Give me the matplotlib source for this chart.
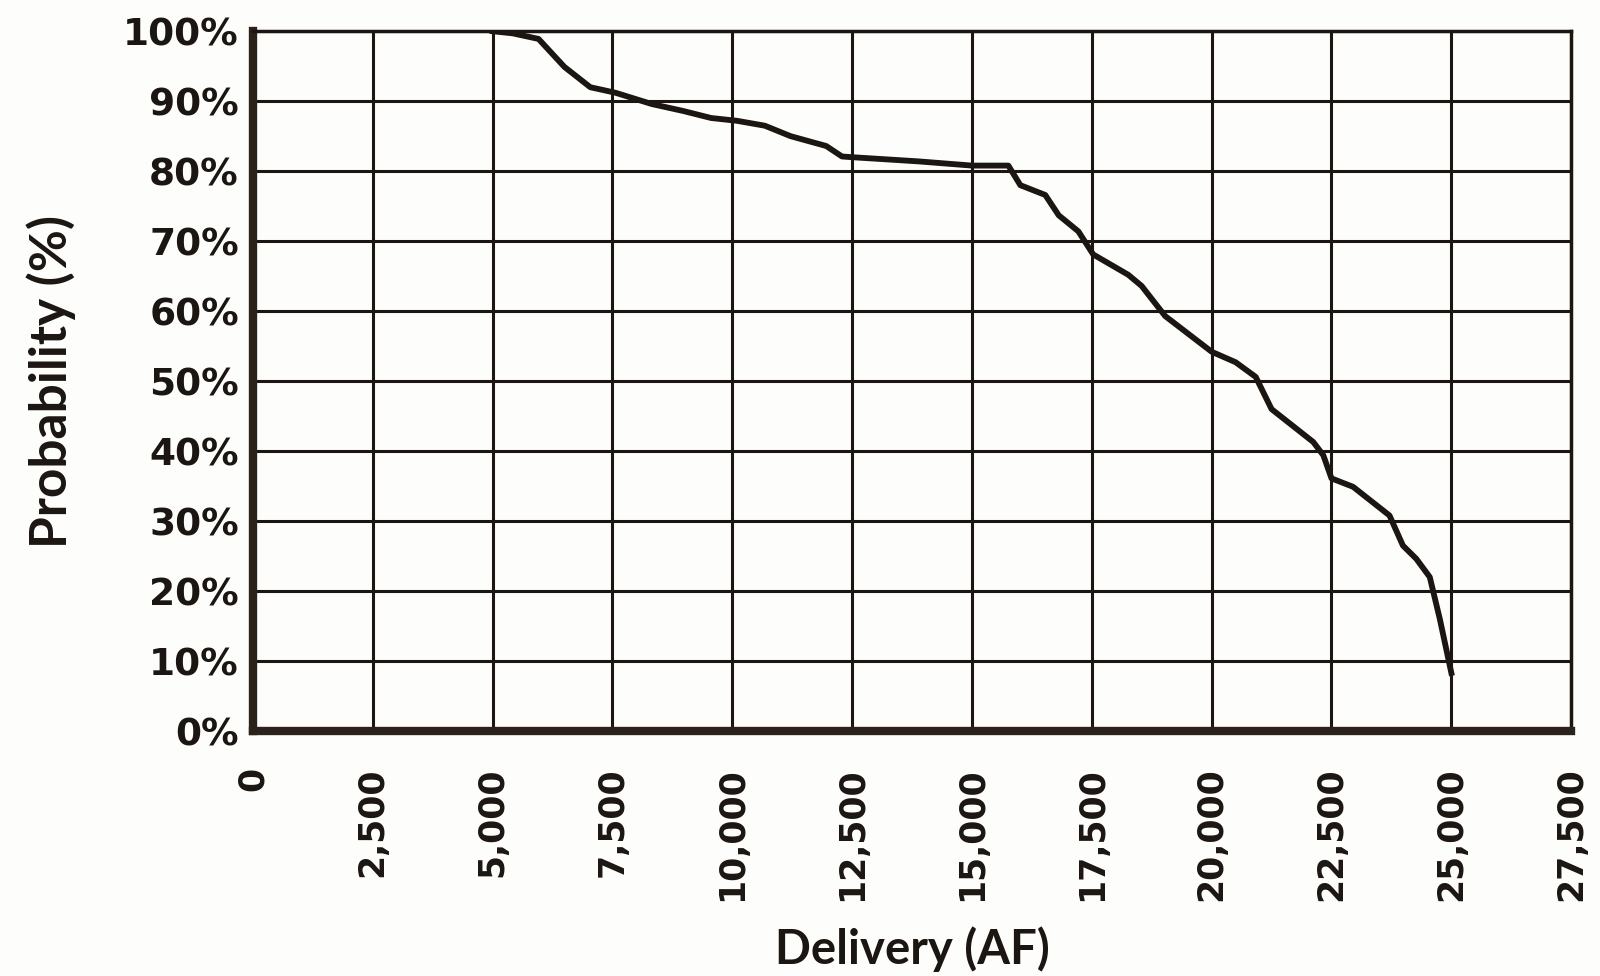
import numpy as np
import matplotlib
matplotlib.use('Agg')
import matplotlib.pyplot as plt
from matplotlib.ticker import FuncFormatter

# exceedance curve
delivery = [5000, 5420, 5960, 6500, 7040, 7570, 8320, 8980, 9560, 10100,
            10680, 11220, 11960, 12290, 12500, 13890, 15000, 15760, 16010, 16530,
            16810, 17220, 17530, 18260, 18540, 19030, 20000, 20500, 20920, 21250,
            22120, 22330, 22500, 22950, 23710, 23990, 24270, 24550, 24760, 25000]
probability = [100, 99.7, 98.9, 94.9, 92.0, 91.2, 89.6, 88.6, 87.6, 87.2,
               86.5, 85.0, 83.6, 82.1, 82.0, 81.4, 80.8, 80.8, 78.0, 76.6,
               73.7, 71.4, 68.1, 65.2, 63.6, 59.3, 54.2, 52.7, 50.6, 46.0,
               41.3, 39.4, 36.1, 34.9, 30.8, 26.5, 24.6, 22.0, 16.0, 8.3]

x_ticks = np.arange(0, 27501, 2500)
y_ticks = np.arange(0, 101, 10)

ink = '#1c1612'

fig = plt.figure(figsize=(16, 9.76), dpi=100, facecolor='#fdfdfb')
ax = fig.add_axes([0.158, 0.251, 0.824, 0.717])
ax.set_facecolor('#fdfdfb')

ax.plot(delivery, probability, color=ink, lw=4.2, solid_joinstyle='round', zorder=3)

ax.set_xlim(0, 27500)
ax.set_ylim(0, 100)
ax.set_xticks(x_ticks)
ax.set_yticks(y_ticks)
ax.xaxis.set_major_formatter(FuncFormatter(lambda v, p: f'{int(v):,}'))
ax.yaxis.set_major_formatter(FuncFormatter(lambda v, p: f'{int(v)}%'))

ax.grid(True, color=ink, lw=2.2)
ax.set_axisbelow(True)
ax.tick_params(length=0, labelcolor=ink)
ax.tick_params(axis='x', pad=26)
ax.tick_params(axis='y', pad=10)
for lab in ax.get_xticklabels():
    lab.set_rotation(90)
    lab.set_fontsize(25)
    lab.set_fontweight('bold')
for lab in ax.get_yticklabels():
    lab.set_fontsize(27)
    lab.set_fontweight('bold')

for side in ['left', 'bottom']:
    ax.spines[side].set_linewidth(6)
    ax.spines[side].set_color('#2a221b')
for side in ['top', 'right']:
    ax.spines[side].set_linewidth(2.5)
    ax.spines[side].set_color(ink)

ax.set_xlabel('Delivery (AF)', fontsize=34, fontweight='bold', family='Lato',
              color=ink, labelpad=18)
ax.set_ylabel('Probability (%)', fontsize=37, fontweight='bold', family='Lato',
              color=ink, labelpad=34)

fig.savefig('out.png', dpi=100, facecolor=fig.get_facecolor())
